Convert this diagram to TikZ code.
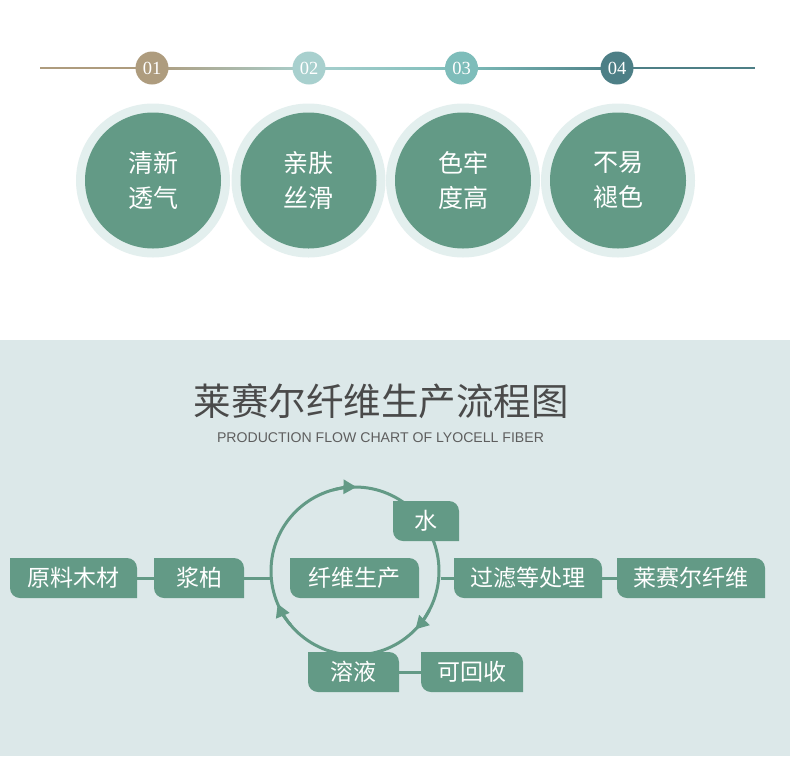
\documentclass[tikz,border=0pt]{standalone}
\usepackage{fontspec}
\setmainfont{Liberation Serif}
\newfontfamily\cjk{Noto Sans CJK SC}
\newfontfamily\lsans{Liberation Sans}
\usetikzlibrary{calc,arrows.meta}
\definecolor{bgc}{HTML}{DCE8E9}
\definecolor{grn}{HTML}{639A86}
\definecolor{ringc}{HTML}{E3EFEE}
\definecolor{cA}{HTML}{AE9C7E}
\definecolor{cB}{HTML}{A8D0CE}
\definecolor{cC}{HTML}{7EBDBA}
\definecolor{cD}{HTML}{4D7F86}
\definecolor{titlec}{HTML}{4A4A4A}
\definecolor{subc}{HTML}{5E5E5E}
\begin{document}
\begin{tikzpicture}[x=1pt,y=-1pt,
  numdot/.style={circle,minimum size=33pt,inner sep=0pt,text=white,font=\fontsize{18.5}{18.5}\selectfont},
  outerdot/.style={circle,minimum size=154pt,inner sep=0pt,fill=ringc},
  innerdot/.style={circle,minimum size=136pt,inner sep=0pt,fill=grn,text=white,align=center,font=\cjk\fontsize{25}{35}\selectfont},
  conn/.style={draw=grn,line width=3pt},
  ringarrow/.style={draw=grn,line width=3pt,-{Triangle[length=13pt,width=14pt]}},
  flowbox/.style={inner sep=0pt,outer sep=0pt,minimum height=40pt,text=white,
    font=\cjk\fontsize{23}{23}\selectfont,
    path picture={
      \fill[grn] (path picture bounding box.north west)
        -- ([xshift=-10pt]path picture bounding box.north east)
        .. controls ([xshift=-4.5pt]path picture bounding box.north east) and ([yshift=-4.5pt]path picture bounding box.north east) .. ([yshift=-10pt]path picture bounding box.north east)
        -- (path picture bounding box.south east)
        -- ([xshift=10pt]path picture bounding box.south west)
        .. controls ([xshift=4.5pt]path picture bounding box.south west) and ([yshift=4.5pt]path picture bounding box.south west) .. ([yshift=10pt]path picture bounding box.south west)
        -- cycle;}}
]
\useasboundingbox (0,0) rectangle (790,756);
\fill[white] (0,0) rectangle (790,340);
\fill[bgc] (0,340) rectangle (790,756);

% timeline
\coordinate (tl) at (40,68);
\coordinate (tr) at (755,68);
\node[numdot] (n1) at (152,68) {};
\node[numdot] (n2) at (309,68) {};
\node[numdot] (n3) at (461.5,68) {};
\node[numdot] (n4) at (617,68) {};
\fill[cA] ($(tl)+(0,-1)$) rectangle ($(n1.center)+(0,1)$);
\shade[left color=cA,right color=cB] ($(n1.center)+(0,-1)$) rectangle ($(n2.center)+(0,1)$);
\shade[left color=cB,right color=cC] ($(n2.center)+(0,-1)$) rectangle ($(n3.center)+(0,1)$);
\shade[left color=cC,right color=cD] ($(n3.center)+(0,-1)$) rectangle ($(n4.center)+(0,1)$);
\fill[cD] ($(n4.center)+(0,-1)$) rectangle ($(tr)+(0,1)$);
\node[numdot,fill=cA] at (n1) {01};
\node[numdot,fill=cB] at (n2) {02};
\node[numdot,fill=cC] at (n3) {03};
\node[numdot,fill=cD] at (n4) {04};

% feature circles
\node[outerdot] (o1) at (153,180.5) {};
\node[outerdot] (o2) at (308.5,180.5) {};
\node[outerdot] (o3) at (463,180.5) {};
\node[outerdot] (o4) at (618,180.5) {};
\node[innerdot] (f1) at (o1) {清新\\透气};
\node[innerdot] (f2) at (o2) {亲肤\\丝滑};
\node[innerdot] (f3) at (o3) {色牢\\度高};
\node[innerdot] (f4) at (o4) {不易\\褪色};

% title
\node[font=\cjk\fontsize{37.5}{37.5}\selectfont,text=titlec] (title) at (381,401) {莱赛尔纤维生产流程图};
\node[font=\lsans\fontsize{14.1}{14.1}\selectfont,text=subc] (sub) at (380.5,438) {PRODUCTION FLOW CHART OF LYOCELL FIBER};

% cycle
\node[circle,draw=grn,line width=3pt,minimum size=168pt,inner sep=0pt] (ring) at (355,571) {};
\draw[ringarrow] (ring.center) ++(255:84) arc[start angle=255,end angle=271,radius=84];
\draw[ringarrow] (ring.center) ++(28:84) arc[start angle=28,end angle=44,radius=84];
\draw[ringarrow] (ring.center) ++(140:84) arc[start angle=140,end angle=157,radius=84];

% boxes
\node[flowbox,minimum width=127pt] (ylm) at (73.5,578) {原料木材};
\node[flowbox,minimum width=90pt] (jb) at (199,578) {浆柏};
\node[flowbox,minimum width=129pt] (xw) at (354.5,578) {纤维生产};
\node[flowbox,minimum width=66pt] (water) at (426,521) {水};
\node[flowbox,minimum width=148pt] (gl) at (528,578) {过滤等处理};
\node[flowbox,minimum width=148pt] (lsr) at (691,578) {莱赛尔纤维};
\node[flowbox,minimum width=91pt] (ry) at (353.5,672) {溶液};
\node[flowbox,minimum width=102pt] (khs) at (472,672) {可回收};

% connectors
\draw[conn] (ylm.east) -- (jb.west);
\draw[conn] (jb.east) -- (ring.west |- jb.east);
\draw[conn] (ring.east |- gl.west) -- (gl.west);
\draw[conn] (gl.east) -- (lsr.west);
\draw[conn] (ry.east) -- (khs.west);
\end{tikzpicture}
\end{document}
